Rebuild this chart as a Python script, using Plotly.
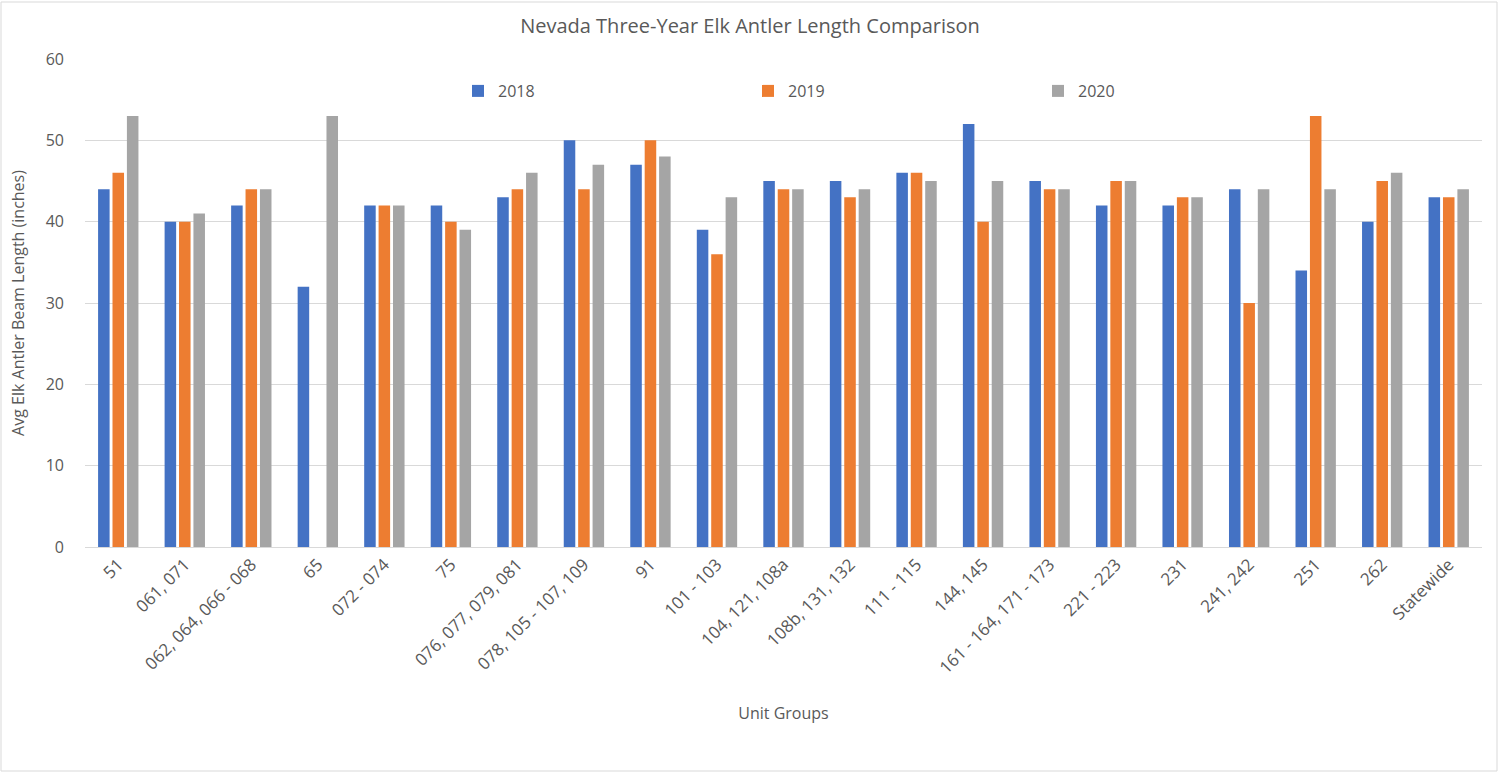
import plotly.graph_objects as go

categories = ["51", "061, 071", "062, 064, 066 - 068", "65", "072 - 074", "75",
              "076, 077, 079, 081", "078, 105 - 107, 109", "91", "101 - 103",
              "104, 121, 108a", "108b, 131, 132", "111 - 115", "144, 145",
              "161 - 164, 171 - 173", "221 - 223", "231", "241, 242", "251", "262",
              "Statewide"]
y2018 = [44, 40, 42, 32, 42, 42, 43, 50, 47, 39, 45, 45, 46, 52, 45, 42, 42, 44, 34, 40, 43]
y2019 = [46, 40, 44, None, 42, 40, 44, 44, 50, 36, 44, 43, 46, 40, 44, 45, 43, 30, 53, 45, 43]
y2020 = [53, 41, 44, 53, 42, 39, 46, 47, 48, 43, 44, 44, 45, 45, 44, 45, 43, 44, 44, 46, 44]
y_ticks = [0, 10, 20, 30, 40, 50, 60]

FONT = "Open Sans"
GRAY = "#595959"

fig = go.Figure()
for name, vals, col in [("2018", y2018, "#4472C4"), ("2019", y2019, "#ED7D31"), ("2020", y2020, "#A5A5A5")]:
    fig.add_trace(go.Bar(x=categories, y=vals, name=name, marker_color=col,
                         marker_line_width=0))

fig.update_layout(
    width=1500, height=773,
    paper_bgcolor="white", plot_bgcolor="white",
    margin=dict(l=85, r=18, t=59, b=226, autoexpand=False),
    barmode="group", bargap=0.35, bargroupgap=0.2,
    font=dict(family=FONT, color=GRAY, size=14),
    title=dict(text="Nevada Three-Year Elk Antler Length Comparison", x=0.5, xref="container",
               xanchor="center", y=1 - 26 / 773, yref="container", yanchor="middle",
               font=dict(size=20, color=GRAY, family=FONT)),
    legend=dict(orientation="h", x=458 / 1500, xanchor="left", xref="container",
                y=1 - 91 / 773, yref="container", yanchor="middle",
                entrywidth=245, entrywidthmode="pixels",
                font=dict(size=16, color=GRAY), itemsizing="constant",
                bgcolor="rgba(0,0,0,0)"),
    xaxis=dict(tickangle=-45, showgrid=False, showline=True, linecolor="#d9d9d9",
               ticks="", tickfont=dict(size=17, color=GRAY),
               title=dict(text="Unit Groups", font=dict(size=16, color=GRAY), standoff=30)),
    yaxis=dict(range=[0, 60], tickvals=y_ticks, showgrid=True, gridcolor="#d9d9d9",
               zeroline=False, ticks="", tickfont=dict(size=16, color=GRAY),
               ticklabelstandoff=20,
               title=dict(text="Avg Elk Antler Beam Length (inches)", font=dict(size=16, color=GRAY),
                          standoff=17)),
    shapes=[dict(type="rect", xref="paper", yref="paper",
                 x0=-84/1397, x1=1+15/1397, y0=-224/488, y1=1+57/488,
                 line=dict(color="#d9d9d9", width=1), fillcolor="rgba(0,0,0,0)", layer="below")],
)

fig.write_html("out.html", post_script="document.body.style.margin='0';",
               config={"displayModeBar": False})
